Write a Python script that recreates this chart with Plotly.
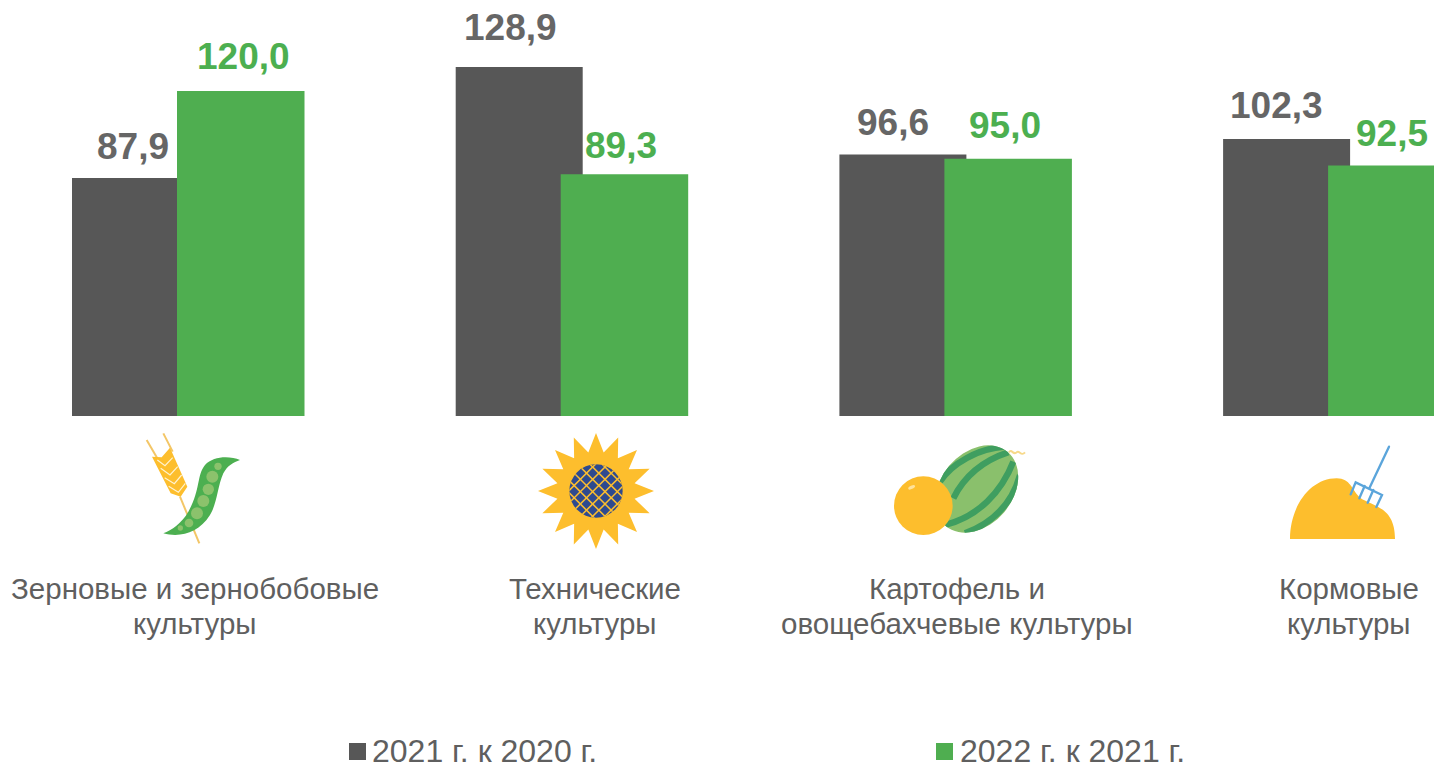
import base64, math
import plotly.graph_objects as go

categories = ["Зерновые и зернобобовые<br>культуры", "Технические<br>культуры",
              "Картофель и<br>овощебахчевые культуры", "Кормовые<br>культуры"]
series_names = ["2021 г. к 2020 г.", "2022 г. к 2021 г."]
values_2021 = [87.9, 128.9, 96.6, 102.3]
values_2022 = [120.0, 89.3, 95.0, 92.5]
label_2021 = ["87,9", "128,9", "96,6", "102,3"]
label_2022 = ["120,0", "89,3", "95,0", "92,5"]

W, H = 1434, 765
GRAY, GREEN = "#575757", "#4FAE50"
TEXT_GRAY, LABEL_GREEN = "#666666", "#4CAF50"
CAT_TEXT = "#5F5F5F"
FONT = "Liberation Sans, Arial, sans-serif"
PX_PER_CAT = 383.7
X0 = 188.0
PX_PER_UNIT = 2.708
BASE = 416.0


def dx(px):
    return px / PX_PER_CAT


def svg_uri(vw, vh, body):
    s = (f'<svg xmlns="http://www.w3.org/2000/svg" width="{vw}" height="{vh}" '
         f'viewBox="0 0 {vw} {vh}">{body}</svg>')
    return "data:image/svg+xml;base64," + base64.b64encode(s.encode()).decode()


wheat_pea = (
    '<g stroke="#F3C667" stroke-width="6" fill="none">'
    '<path d="M50 45 L85 105"/><path d="M100 25 L128 80"/><path d="M150 215 L208 355"/></g>'
    '<path d="M66 95 L95 97 L120 68 L172 185 L152 215 L122 205 Z" fill="#FDBE2D"/>'
    '<g stroke="#FFF3D0" stroke-width="3.5" fill="none">'
    '<path d="M82 105 L105 122 L128 98"/><path d="M92 130 L120 150 L143 125"/>'
    '<path d="M104 158 L133 176 L155 150"/><path d="M116 184 L145 202 L166 175"/></g>'
    '<path d="M330 105 C300 92 250 92 225 120 C200 150 212 195 175 260 '
    'C155 295 125 315 100 325 C150 338 205 325 240 270 '
    'C262 235 262 185 280 145 C292 122 310 112 330 105 Z" fill="#4CAF50"/>'
    + "".join(f'<circle cx="{x}" cy="{y}" r="{r}" fill="#8BC26C"/>' for x, y, r in [
        (264, 124, 11), (247, 155, 18), (235, 193, 17), (220, 228, 18),
        (201, 265, 18), (177, 294, 13), (151, 309, 8)])
)

pts = []
for i in range(32):
    r = 174 if i % 2 == 0 else 118
    a = math.pi * i / 16
    pts.append(f"{198 + r * math.sin(a):.1f},{198 - r * math.cos(a):.1f}")
lattice = "".join(
    f'<path d="M{o - 120} 80 L{o + 120} 320"/><path d="M{o + 120} 80 L{o - 120} 320"/>'
    for o in range(40, 380, 37))
sunflower = (
    f'<polygon points="{" ".join(pts)}" fill="#FDBE2D"/>'
    '<defs><clipPath id="c"><circle cx="198" cy="198" r="80"/></clipPath></defs>'
    '<circle cx="198" cy="198" r="80" fill="#2E4A8F"/>'
    f'<g clip-path="url(#c)" stroke="#FDBE2D" stroke-width="4.5">{lattice}</g>'
)

melon = (
    '<path d="M372 52 C380 40 385 62 395 52 C403 44 408 66 420 52" stroke="#F7D98A" stroke-width="6" fill="none"/>'
    '<defs><clipPath id="m"><ellipse cx="275" cy="162" rx="108" ry="145" transform="rotate(40 275 162)"/></clipPath></defs>'
    '<ellipse cx="275" cy="162" rx="108" ry="145" transform="rotate(40 275 162)" fill="#8AC06C"/>'
    '<g clip-path="url(#m)" fill="none" stroke="#3F9E60" stroke-width="19">'
    '<path d="M165 140 C200 85 280 40 360 35"/>'
    '<path d="M205 190 C240 120 300 75 370 52"/>'
    '<path d="M180 270 C280 245 350 170 385 80"/>'
    '<path d="M240 295 C320 265 380 210 405 120"/></g>'
    '<circle cx="115" cy="212" r="88" fill="#FDBE2D"/>'
    '<ellipse cx="80" cy="157" rx="11" ry="5" transform="rotate(-25 80 157)" fill="#FFE29A"/>'
)

hay = (
    '<path d="M30 312 C30 215 90 130 170 130 C212 130 215 165 240 188 '
    'C280 215 345 215 345 312 Z" fill="#FDBE2D"/>'
    '<g stroke="#5BA5DB" stroke-width="7" fill="none" stroke-linecap="round">'
    '<path d="M327 35 L268 160"/><path d="M212 178 L227 142 L306 180 L289 216"/>'
    '<path d="M238 190 L254 153"/><path d="M263 203 L280 165"/></g>'
)

icons = [(wheat_pea, 130, 425, 390, 375), (sunflower, 530, 425, 390, 390),
         (melon, 885, 435, 450, 330), (hay, 1280, 435, 390, 330)]

fig = go.Figure()
fig.add_bar(x=categories, y=values_2021, name=series_names[0], marker_color=GRAY, marker_line_width=0,
            width=dx(127), offset=dx(72 - X0), showlegend=False)
fig.add_bar(x=categories, y=values_2022, name=series_names[1], marker_color=GREEN, marker_line_width=0,
            width=dx(127.5), offset=dx(177 - X0), showlegend=False)

# value labels: pixel nudges relative to bar centre
nudges_2021 = [(-3, 31), (-9, 39), (-10, 32), (-10, 33)]
nudges_2022 = [(3, 35), (-3, 29), (-3, 33), (0, 32)]
ann = []
for i in range(4):
    for val, lab, (nx, ny), cx, col in [
        (values_2021[i], label_2021[i], nudges_2021[i], 135.5 - X0, TEXT_GRAY),
        (values_2022[i], label_2022[i], nudges_2022[i], 240.5 - X0, LABEL_GREEN),
    ]:
        ann.append(dict(x=i + dx(cx), y=val, xref="x", yref="y", text=f"<b>{lab}</b>",
                        showarrow=False, xanchor="center", yanchor="middle",
                        xshift=nx, yshift=ny, font=dict(family=FONT, size=37, color=col)))

cat_centers = [195, 595, 957, 1349]
for c, px in zip(categories, cat_centers):
    for line, py in zip(c.split("<br>"), (588, 623)):
        ann.append(dict(x=px / W, y=1 - py / H, xref="paper", yref="paper", text=line, showarrow=False,
                        xanchor="center", yanchor="middle", align="center",
                        font=dict(family=FONT, size=29.5, color=CAT_TEXT)))

shapes = []
for name, col, sw, tx in [(series_names[0], GRAY, 349, 372), (series_names[1], GREEN, 936, 960)]:
    shapes.append(dict(type="rect", xref="paper", yref="paper", x0=sw / W, x1=(sw + 17) / W,
                       y0=1 - 760 / H, y1=1 - 743 / H, fillcolor=col, line_width=0))
    ann.append(dict(x=tx / W, y=1 - 751 / H, xref="paper", yref="paper", text=name, showarrow=False,
                    xanchor="left", yanchor="middle", xshift=-2, height=26, valign="middle",
                    font=dict(family=FONT, size=32, color=CAT_TEXT)))

images = [dict(source=svg_uri(vw, vh, body), xref="paper", yref="paper",
               x=px / W, y=1 - py / H, sizex=vw / 3 / W, sizey=vh / 3 / H,
               xanchor="left", yanchor="top", sizing="stretch", layer="above")
          for body, px, py, vw, vh in icons]

fig.update_layout(
    width=W, height=H, margin=dict(l=0, r=0, t=0, b=0),
    paper_bgcolor="white", plot_bgcolor="white", barmode="overlay",
    xaxis=dict(type="category", range=[-X0 / PX_PER_CAT, (W - X0) / PX_PER_CAT],
               showticklabels=False, showgrid=False, zeroline=False, ticks=""),
    yaxis=dict(domain=[1 - BASE / H, 1], range=[0, BASE / PX_PER_UNIT], visible=False),
    annotations=ann, shapes=shapes, images=images,
)
fig.write_html("out.html", config={"displayModeBar": False},
               post_script="document.body.style.margin='0';document.body.style.overflow='hidden';")
